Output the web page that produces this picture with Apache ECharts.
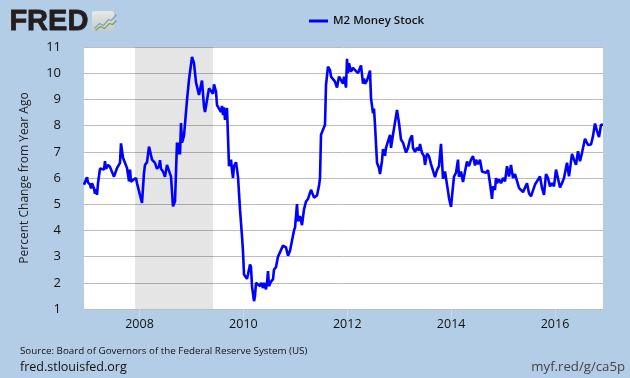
<!DOCTYPE html>
<html>
<head>
<meta charset="utf-8">
<script src="https://cdn.jsdelivr.net/npm/echarts@6/dist/echarts.min.js"></script>
<style>
  html, body { margin: 0; padding: 0; background: #b3cde6; }
  #main { width: 630px; height: 378px; }
</style>
</head>
<body>
<div id="main"></div>
<script>
// roughly weekly samples, counted from the first observation
const weeks = [
  0,2,3,4,6,7,8,10,11,12,
  13,14,16,18,20,21,22,24,26,28,
  30,32,33,36,37,39,41,43,45,46,
  47,49,50,52,53,55,57,58,59,60,
  61,63,65,67,68,71,73,75,76,77,
  79,81,83,85,87,89,91,92,93,94,
  95,96,97,98,100,102,103,105,108,110,
  112,114,115,117,118,120,121,123,125,127,
  129,130,132,133,135,137,138,139,140,141,
  143,144,145,147,148,149,150,152,154,156,
  158,159,160,162,163,164,166,167,168,170,
  171,172,174,176,177,178,179,180,182,183,
  184,185,187,189,190,192,194,196,199,202,
  204,206,208,210,211,213,214,216,218,220,
  222,224,227,228,230,233,235,236,237,239,
  241,242,244,246,247,249,251,253,255,257,
  259,260,262,263,264,265,267,269,271,272,
  274,276,277,279,280,281,283,285,286,287,
  289,290,291,293,295,296,298,299,301,302,
  304,306,307,309,311,313,315,317,319,322,
  324,326,328,329,331,333,335,336,338,340,
  341,343,345,347,349,351,353,355,357,359,
  361,362,364,365,367,368,370,372,374,375,
  377,379,381,383,385,387,389,391,392,394,
  396,398,400,402,404,406,408,409,411,412,
  413,415,417,419,421,423,425,427,429,431,
  433,435,437,439,441,443,445,447,449,451,
  453,456,458,460,462,464,466,468,470,472,
  474,476,478,480,483,485,488,490,492,494,
  496,498,501,504,507,509,511,513,515,517,
  519
];
const values = [
  5.74,5.8,6.03,5.83,5.75,5.6,5.8,5.6,5.4,5.57,
  5.36,5.8,6.36,6.38,6.32,6.64,6.35,6.5,6.42,6.35,
  6.05,6.05,6.38,6.58,7.32,6.77,6.7,6.38,5.87,6.32,
  5.85,5.93,5.88,6.0,5.8,5.5,5.43,5.05,5.05,6.19,
  6.5,6.6,7.2,7.15,6.7,6.58,6.35,6.45,6.68,6.35,
  6.25,6.05,6.5,6.5,6.05,4.92,5.1,5.15,7.35,6.9,
  7.35,6.9,8.1,7.35,7.62,7.58,8.97,9.75,10.62,10.38,
  9.65,9.62,9.17,9.55,9.72,8.72,8.52,8.52,9.42,9.38,
  9.22,9.57,9.3,8.78,8.65,8.52,8.75,8.4,8.7,8.22,
  8.67,8.63,6.45,6.7,6.3,6.0,6.45,6.6,6.05,4.8,
  3.77,3.2,2.32,2.25,2.15,2.32,2.7,2.6,1.87,1.3,
  1.5,2.0,1.93,1.87,2.0,2.05,1.8,2.0,1.75,2.0,
  2.45,1.87,2.05,2.13,2.5,2.6,3.0,3.0,3.42,3.35,
  3.03,3.22,3.2,4.0,4.1,5.0,4.35,4.55,4.2,4.8,
  5.1,5.2,5.55,5.45,5.25,5.33,5.7,6.0,7.65,7.65,
  8.03,9.55,10.25,10.12,9.87,9.87,9.68,9.45,9.87,9.9,
  9.6,9.87,9.45,10.55,10,10.38,10.06,10.2,10.12,10.18,
  10,10.2,10.3,9.6,9.8,9.6,9.72,9.65,10.1,9.05,
  8.47,8.65,8.03,6.58,6.38,6.15,6.65,7.1,6.85,7.15,
  7.1,7.65,7.15,7.65,7.7,8.6,8.1,7.47,7.35,6.97,
  7.15,7.48,7.63,7.15,7.0,7.15,7.05,7.3,6.96,6.83,
  6.5,6.93,6.83,6.53,6.58,6.03,6.3,6.45,7.3,5.97,
  6.25,6.3,5.5,5.23,4.9,5.3,6.05,6.2,6.7,6.05,
  6.25,5.85,6.25,6.63,6.45,6.7,6.83,6.48,6.7,6.53,
  6.7,6.25,6.3,6.2,6.3,5.8,5.2,5.68,5.55,6.0,
  5.8,5.95,5.8,6.0,5.87,6.45,6.06,6.5,6.0,6.15,
  6.13,5.62,5.6,5.46,5.42,5.8,5.42,5.3,5.25,5.75,
  5.8,6.06,5.62,5.36,6.15,6.0,5.68,5.8,5.68,6.32,
  6.32,5.64,5.8,6.0,6.58,6.06,6.92,6.7,6.5,7.02,
  6.64,6.96,7.5,7.26,7.28,7.6,8.08,7.8,7.56,8.03,
  8.03
];
const recessionYears = [2007.915, 2009.415];
const tickYears = [2008, 2010, 2012, 2014, 2016];

const firstYear = 2006.9315;
const lastYear = 2016.9238;
const yearsPerWeek = (lastYear - firstYear) / 519;
const data = weeks.map((w, i) => [firstYear + w * yearsPerWeek, values[i]]);

const myChart = echarts.init(document.getElementById("main"));
const font = "'Open Sans'";

const option = {
  animation: false,
  backgroundColor: "#b3cde6",
  textStyle: { fontFamily: font },
  grid: {
    show: true,
    left: 84,
    right: 27,
    top: 47,
    bottom: 69,
    backgroundColor: "#ffffff",
    borderWidth: 0,
  },
  legend: {
    top: 10,
    left: 304,
    itemWidth: 19,
    itemHeight: 3,
    itemGap: 4,
    icon: "rect",
    textStyle: { fontSize: 11.5, color: "#111", fontWeight: 600, fontFamily: font },
    data: ["M2 Money Stock"],
  },
  xAxis: {
    type: "value",
    min: firstYear,
    max: lastYear,
    axisLine: { show: false },
    splitLine: { show: false },
    axisTick: { show: true, customValues: tickYears, length: 11, lineStyle: { color: "#c4d9ec", width: 1 } },
    axisLabel: {
      customValues: tickYears,
      margin: 9,
      fontSize: 12.5,
      color: "#111",
      fontFamily: font,
      formatter: (v) => String(v),
    },
  },
  yAxis: {
    type: "value",
    min: 1,
    max: 11,
    interval: 1,
    name: "Percent Change from Year Ago",
    nameLocation: "middle",
    nameGap: 53,
    nameTextStyle: { fontSize: 12, color: "#222", fontFamily: font },
    axisLine: { show: false },
    axisTick: { show: false },
    axisLabel: { margin: 23, fontSize: 13, color: "#111", fontFamily: font },
    splitLine: { show: true, lineStyle: { color: "#bcbcbc", width: 1 } },
  },
  series: [
    {
      name: "M2 Money Stock",
      type: "line",
      showSymbol: false,
      smooth: false,
      lineStyle: { color: "#0000ff", width: 2.6 },
      itemStyle: { color: "#0000ff" },
      markArea: {
        silent: true,
        itemStyle: { color: "rgba(0,0,0,0.1)" },
        data: [[{ xAxis: recessionYears[0] }, { xAxis: recessionYears[1] }]],
      },
      data: data,
    },
  ],
  graphic: [
    { type: "text", left: 9, top: 7, style: { text: "FRED", fontFamily: "Liberation Sans", fontWeight: "bold", fontSize: 29, fill: "#231f20", stroke: "#231f20", lineWidth: 0.8 } },
    {
      type: "rect", left: 92, top: 11, shape: { width: 22, height: 20, r: 2 },
      style: { fill: new echarts.graphic.LinearGradient(0, 0, 0, 1, [{ offset: 0, color: "#e6e8e8" }, { offset: 1, color: "#c6cbca" }]) },
    },
    { type: "polyline", left: 92, top: 12, shape: { points: [[0, 14], [5, 9], [9, 11], [14, 5], [17, 6], [22, 0]] }, style: { stroke: "#7fa3b8", fill: null, lineWidth: 1.2 } },
    { type: "polyline", left: 93, top: 18, shape: { points: [[0, 10], [5, 6], [9, 8], [14, 3], [17, 4], [21, 0]] }, style: { stroke: "#7ea35a", fill: null, lineWidth: 1.2 } },
    { type: "text", left: 20, top: 346, style: { text: "Source: Board of Governors of the Federal Reserve System (US)", fontFamily: font, fontSize: 9.8, fill: "#111" } },
    { type: "text", left: 20, top: 361, style: { text: "fred.stlouisfed.org", fontFamily: font, fontSize: 12.5, fill: "#111" } },
    { type: "text", right: 5, top: 361, style: { text: "myf.red/g/ca5p", fontFamily: font, fontSize: 13.2, fill: "#444" } },
  ],
};

myChart.setOption(option);
</script>
</body>
</html>
